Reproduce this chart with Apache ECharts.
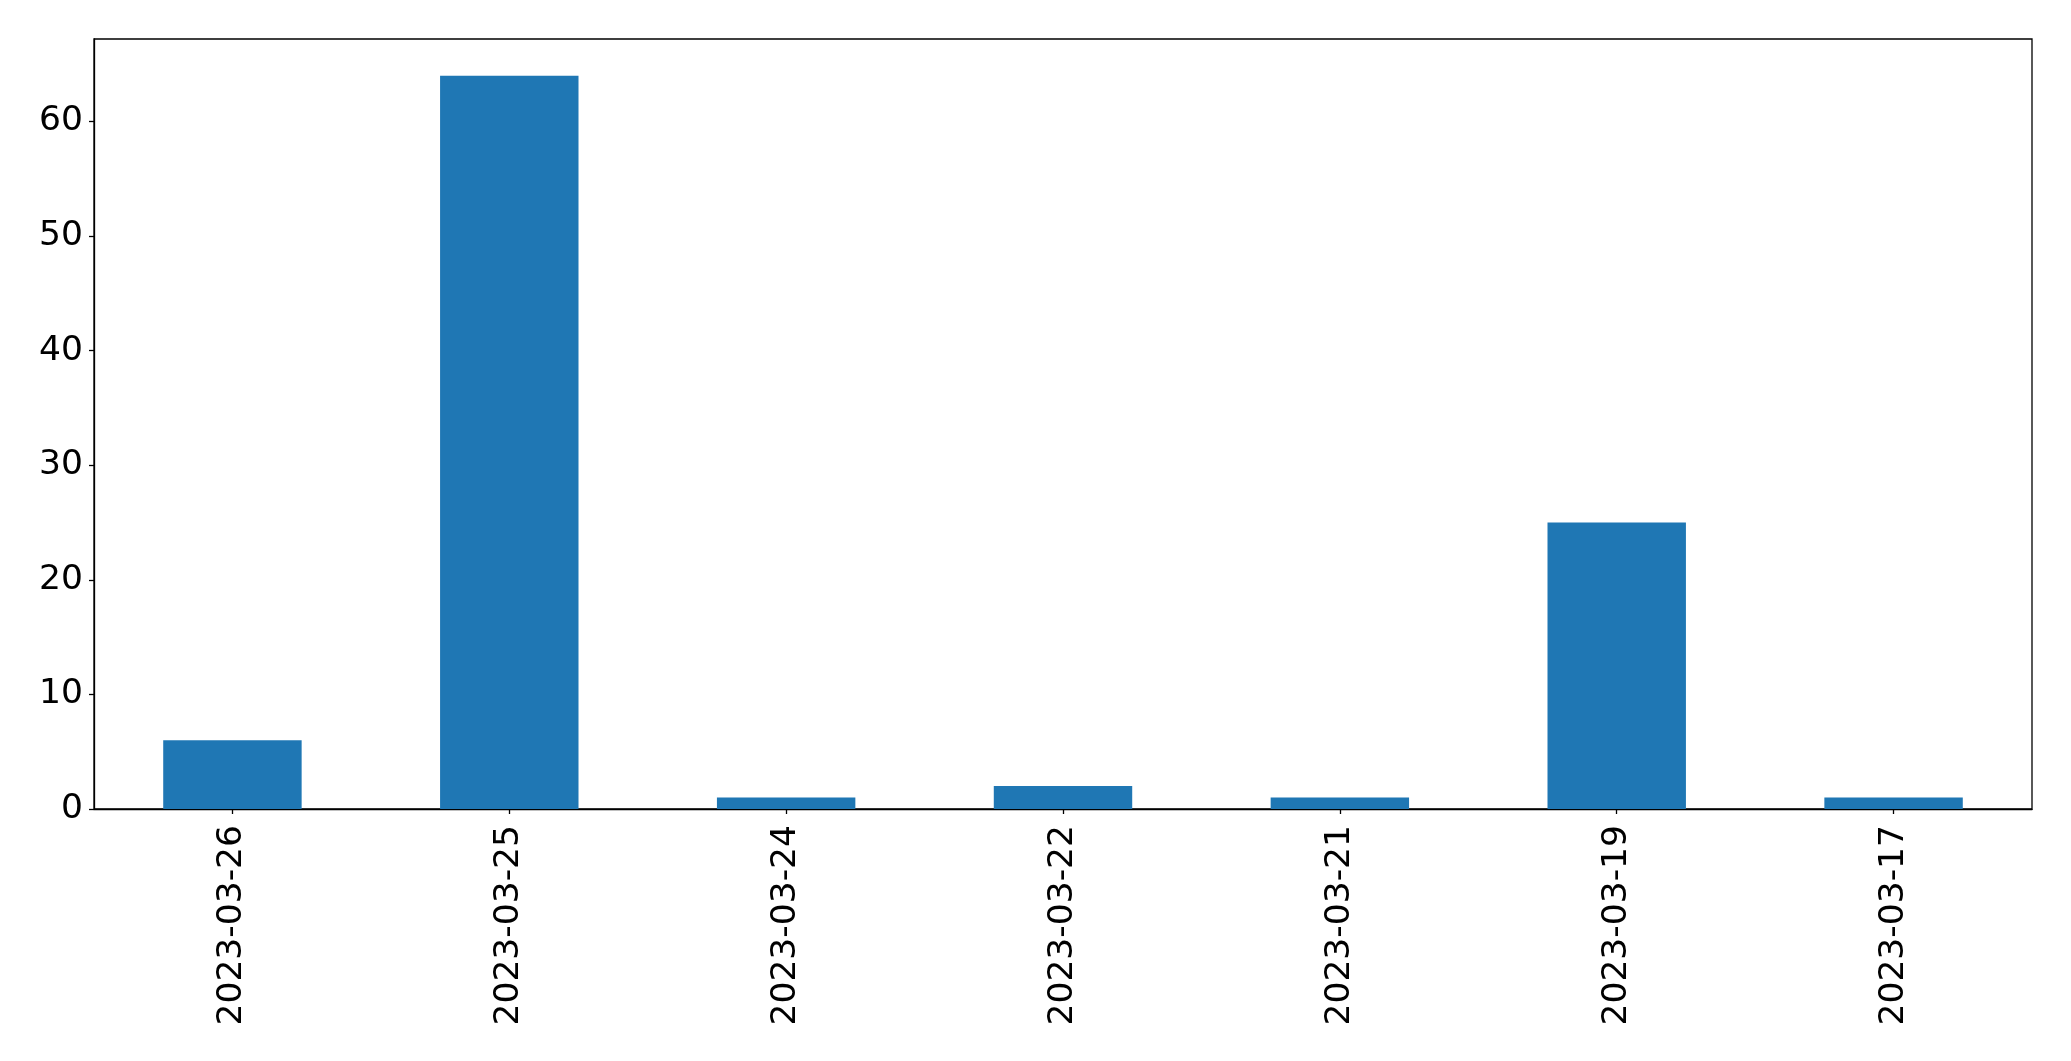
<!DOCTYPE html>
<html>
<head>
<meta charset="utf-8">
<script src="https://cdn.jsdelivr.net/npm/echarts@6/dist/echarts.min.js"></script>
<style>
html,body{margin:0;padding:0;background:#fff;}
#chart{width:2071px;height:1061px;}
</style>
</head>
<body>
<div id="chart"></div>
<script>
const categories = ["2023-03-26","2023-03-25","2023-03-24","2023-03-22","2023-03-21","2023-03-19","2023-03-17"];
const values = [6, 64, 1, 2, 1, 25, 1];
const yTicks = [0, 10, 20, 30, 40, 50, 60];

const chart = echarts.init(document.getElementById('chart'), null, {renderer: 'canvas'});
chart.setOption({
  animation: false,
  backgroundColor: '#ffffff',
  grid: {
    left: 94, right: 39, top: 39, bottom: 252,
    show: true, borderColor: '#000', borderWidth: 1.3, backgroundColor: 'transparent'
  },
  xAxis: {
    type: 'category',
    data: categories,
    boundaryGap: true,
    axisLine: {show: true, lineStyle: {color: '#000', width: 1.3}},
    axisTick: {show: true, alignWithLabel: true, length: 5, lineStyle: {color: '#000', width: 1.3}},
    axisLabel: {
      rotate: 90, margin: 16, color: '#000', fontSize: 34.5,
      fontFamily: 'DejaVu Sans', interval: 0
    },
    splitLine: {show: false}
  },
  yAxis: {
    type: 'value',
    min: 0, max: 67.2, interval: 10,
    axisLine: {show: true, lineStyle: {color: '#000', width: 1.3}},
    axisTick: {show: true, length: 5, lineStyle: {color: '#000', width: 1.3}},
    axisLabel: {
      margin: 11, color: '#000', fontSize: 34.5, fontFamily: 'DejaVu Sans',
      showMaxLabel: false,
      formatter: function (v) { return yTicks.indexOf(v) >= 0 ? String(v) : ''; }
    },
    splitLine: {show: false}
  },
  series: [{
    type: 'bar',
    data: values,
    barWidth: '50%',
    itemStyle: {color: '#1f77b4'}
  }]
});
</script>
</body>
</html>
